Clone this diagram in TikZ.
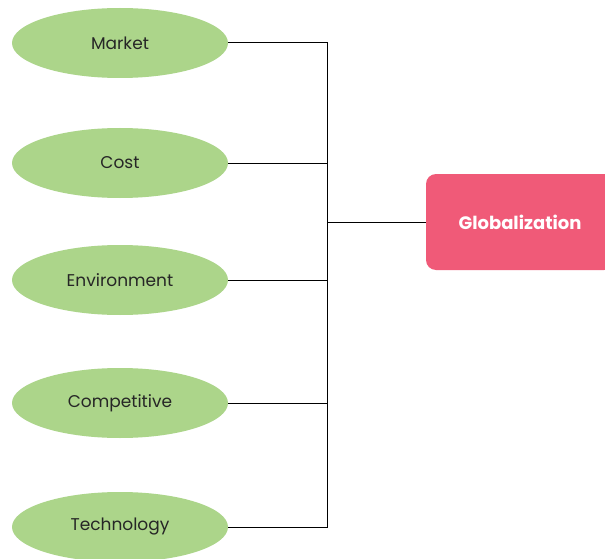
\documentclass[tikz,border=0pt]{standalone}
\usepackage{fontspec}
\setmainfont{Poppins}
\usetikzlibrary{shapes.geometric}
\definecolor{leafgreen}{HTML}{ACD58A}
\definecolor{rosepink}{HTML}{F05A78}
\tikzset{
  factor/.style={ellipse, fill=leafgreen, minimum width=216pt, minimum height=70pt, inner sep=0pt, font=\fontsize{17}{20}\selectfont, text=black!85},
  target/.style={rectangle, rounded corners=10pt, fill=rosepink, minimum width=188pt, minimum height=96pt, text=white, font=\fontsize{18}{21}\selectfont\bfseries},
  link/.style={draw=black, line width=1pt}
}
\begin{document}
\begin{tikzpicture}[x=1pt,y=-1pt]
\clip (0,0) rectangle (605,559);
\fill[white] (0,0) rectangle (605,559);
\node[factor] (market) at (120,43) {Market};
\node[factor] (cost) at (120,163) {Cost};
\node[factor] (env) at (120,280) {Environment};
\node[factor] (comp) at (120,403) {Competitive};
\node[factor] (tech) at (120,527) {Technology};
\node[target] (glob) at (520,222) {Globalization};
\coordinate (top) at (327,43);
\coordinate (bot) at (327,527);
\coordinate (mid) at (327,222);
\draw[link] (market.east) -- (top) -- (bot) -- (tech.east);
\draw[link] (cost.east) -- (cost.east -| mid);
\draw[link] (env.east) -- (env.east -| mid);
\draw[link] (comp.east) -- (comp.east -| mid);
\draw[link] (mid) -- (glob.west);
\end{tikzpicture}
\end{document}
